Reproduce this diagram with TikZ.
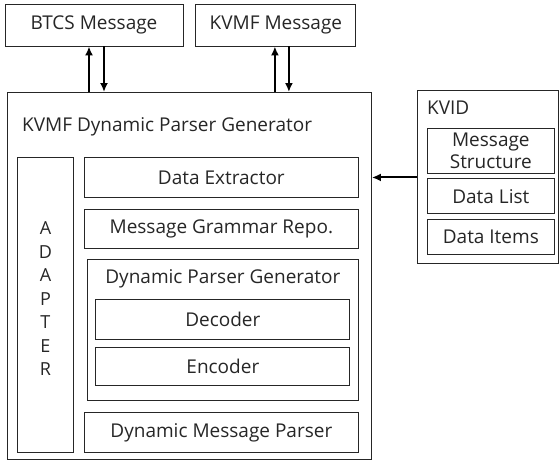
\documentclass[tikz,border=0pt]{standalone}
\usepackage{fontspec}
\setmainfont{Open Sans}
\usepackage{tikz}
\usetikzlibrary{arrows.meta,positioning,calc}
\colorlet{LINECOLOR}{black!85}
\tikzset{
  basic-style/.style = {
    rectangle, draw=LINECOLOR, line width=0.9pt,
    text=LINECOLOR, inner sep=1pt,
    font=\fontsize{19}{22}\selectfont
  },
  msg-style/.style = {
    basic-style, minimum height=42pt
  },
  block-style/.style = {
    basic-style, minimum width=274pt, minimum height=40pt
  },
  inner-style/.style = {
    basic-style, minimum width=254pt, minimum height=40pt
  },
  item-style/.style = {
    basic-style, minimum width=127pt, minimum height=35pt
  },
  title-style/.style = {
    inner sep=0pt, text=LINECOLOR,
    font=\fontsize{19}{22}\selectfont
  },
  arrow-style/.style = {
    draw=black, line width=2pt,
    -{Latex[length=9pt,width=8pt]}
  }
}

\begin{document}
\begin{tikzpicture}
    \useasboundingbox (0,0) rectangle (559pt,-461pt);

    %%% messages
    \node[msg-style,minimum width=178pt] (btcs) at (94pt,-25pt) {BTCS Message};
    \node[msg-style,minimum width=160pt,right=12pt of btcs] (kvmf) {KVMF Message};

    %%% KVMF dynamic parser generator
    \node[basic-style,minimum width=364pt,minimum height=367pt,anchor=north west] (gen) at (7pt,-92pt) {};
    \node[title-style,anchor=west] (gentitle) at ([xshift=15pt,yshift=-35pt]gen.north west) {KVMF Dynamic Parser Generator};
    \node[basic-style,minimum width=56pt,minimum height=295pt,anchor=north west] (adapter) at ([xshift=10pt,yshift=-65pt]gen.north west) {};
    \node[title-style,align=center,font=\fontsize{18}{23.5}\selectfont] (adaptertext) at ([yshift=6pt]adapter.center) {A\\D\\A\\P\\T\\E\\R};
    \node[block-style,anchor=north west] (extract) at ([xshift=10pt]adapter.north east) {Data Extractor};
    \node[block-style,minimum height=39pt,below=11pt of extract] (grammar) {Message Grammar Repo.};
    \node[basic-style,minimum width=271pt,minimum height=141pt,anchor=north east] (dpgen) at ([yshift=-10pt]grammar.south east) {};
    \node[title-style] (dpgentitle) at ([yshift=-20pt]dpgen.north) {Dynamic Parser Generator};
    \node[inner-style,below=40pt of dpgen.north] (decoder) {Decoder};
    \node[inner-style,minimum height=38pt,below=7pt of decoder] (encoder) {Encoder};
    \node[block-style,anchor=south west] (parser) at ([xshift=10pt]adapter.south east) {Dynamic Message Parser};

    %%% KVID
    \node[basic-style,minimum width=141pt,minimum height=173pt,anchor=north west] (kvid) at ([xshift=45pt,yshift=2pt]gen.north east) {};
    \node[title-style,anchor=west] (kvidtitle) at ([xshift=10pt,yshift=-18pt]kvid.north west) {KVID};
    \node[item-style,minimum height=45pt,align=center,font=\fontsize{19}{22}\selectfont] (structure) at ([xshift=3pt,yshift=-60.5pt]kvid.north) {Message\\Structure};
    \node[item-style,below=5pt of structure] (datalist) {Data List};
    \node[item-style,below=5pt of datalist] (dataitems) {Data Items};

    %%% arrows
    % generator to/from BTCS
    \draw[arrow-style] ([xshift=-5pt]btcs.south |- gen.north) -- ([xshift=-5pt]btcs.south);
    \draw[arrow-style] ([xshift=10pt]btcs.south) -- ([xshift=10pt]btcs.south |- gen.north);
    % generator to/from KVMF
    \draw[arrow-style] ([xshift=-1pt]kvmf.south |- gen.north) -- ([xshift=-1pt]kvmf.south);
    \draw[arrow-style] ([xshift=13pt]kvmf.south) -- ([xshift=13pt]kvmf.south |- gen.north);
    % KVID to generator
    \draw[arrow-style] (kvid.west |- extract) -- (gen.east |- extract);
\end{tikzpicture}
\end{document}
